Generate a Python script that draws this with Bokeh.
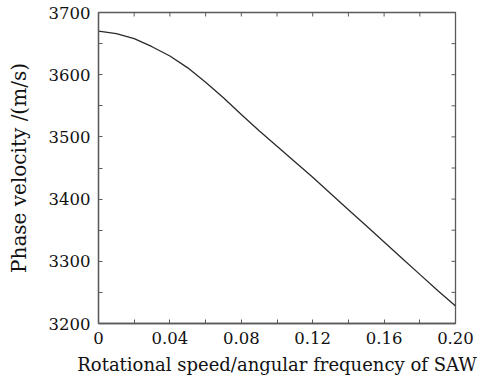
import math
from bokeh.plotting import figure
from bokeh.models import Range1d, FixedTicker, ColumnDataSource
from bokeh.embed import file_html
from bokeh.resources import INLINE

# Data
omega_ratio = [0.00, 0.01, 0.02, 0.03, 0.04, 0.05, 0.06, 0.07, 0.08, 0.09, 0.10,
               0.11, 0.12, 0.13, 0.14, 0.15, 0.16, 0.17, 0.18, 0.19, 0.20]
phase_velocity = [3670, 3666, 3658, 3645, 3630, 3611, 3588, 3563, 3536, 3510, 3485,
                  3460, 3435, 3409, 3383, 3357, 3331, 3305, 3279, 3253, 3228]

x_major = [0.0, 0.04, 0.08, 0.12, 0.16, 0.20]
x_minor = [0.02, 0.06, 0.10, 0.14, 0.18]
x_labels = {0.0: "0", 0.04: "0.04", 0.08: "0.08", 0.12: "0.12", 0.16: "0.16", 0.20: "0.20"}
y_major = [3200, 3300, 3400, 3500, 3600, 3700]
y_minor = [3250, 3350, 3450, 3550, 3650]
x_lim = (0.0, 0.2)
y_lim = (3200, 3700)

FONT = "DejaVu Serif"
AX_COLOR = "#5a5a5a"

p = figure(width=492, height=380, output_backend="svg", toolbar_location=None,
           x_range=Range1d(*x_lim), y_range=Range1d(*y_lim),
           min_border_left=98, min_border_right=37, min_border_top=12, min_border_bottom=57)
p.background_fill_color = "white"
p.border_fill_color = "white"
p.xgrid.visible = False
p.ygrid.visible = False
p.outline_line_color = AX_COLOR
p.outline_line_width = 1.3

src = ColumnDataSource(dict(x=omega_ratio, y=phase_velocity))
p.line("x", "y", source=src, line_color="#2a2a2a", line_width=1.3)

# top and right inside tick marks, clipped to the frame
x_all = x_major + x_minor
y_all = y_major + y_minor
p.scatter(x=x_all, y=[y_lim[1]] * len(x_all), marker="dash", angle=math.pi / 2,
          size=8, line_color=AX_COLOR, line_width=1)
p.scatter(x=[x_lim[1]] * len(y_all), y=y_all, marker="dash",
          size=8, line_color=AX_COLOR, line_width=1)

def style(ax, ticks, minor, label_size):
    ax.ticker = FixedTicker(ticks=ticks, minor_ticks=minor)
    ax.axis_line_color = AX_COLOR
    ax.axis_line_width = 1.3
    ax.major_tick_line_color = AX_COLOR
    ax.minor_tick_line_color = AX_COLOR
    ax.major_tick_in = 4
    ax.major_tick_out = 0
    ax.minor_tick_in = 4
    ax.minor_tick_out = 0
    ax.major_label_text_font = FONT
    ax.major_label_text_font_size = "16.5px"
    ax.major_label_text_color = "#111111"
    ax.axis_label_text_font = FONT
    ax.axis_label_text_font_size = label_size
    ax.axis_label_text_font_style = "normal"
    ax.axis_label_text_color = "#111111"

xa = p.xaxis[0]
style(xa, x_major, x_minor, "18px")
xa.major_label_overrides = x_labels
xa.major_label_standoff = 8
xa.axis_label = "Rotational speed/angular frequency of SAW"
xa.axis_label_standoff = 7

ya = p.yaxis[0]
style(ya, y_major, y_minor, "20px")
ya.major_label_standoff = 8
ya.axis_label = "Phase velocity /(m/s)"
ya.axis_label_standoff = 15

open("out.html", "w").write(file_html(p, INLINE))
